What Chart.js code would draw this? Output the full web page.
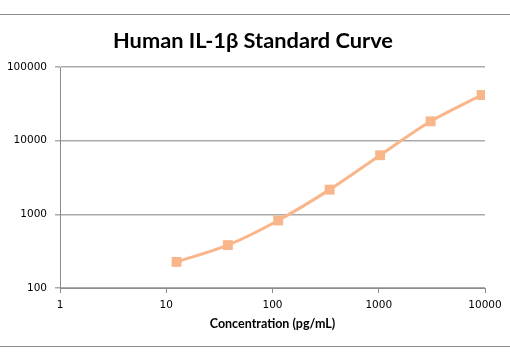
<!DOCTYPE html>
<html>
<head>
<meta charset="utf-8">
<script src="https://cdn.jsdelivr.net/npm/chart.js@4/dist/chart.umd.min.js"></script>
<style>
  html, body { margin: 0; padding: 0; background: #fff; }
  #wrap { width: 510px; height: 362px; }
</style>
</head>
<body>
<div id="wrap"><canvas id="c" width="510" height="362"></canvas></div>
<script>
const chartTitle = "Human IL-1\u03B2 Standard Curve";
const xAxisTitle = "Concentration (pg/mL)";
const concentrations = [12.5, 38, 113, 345, 1030, 3080, 9300];
const signal = [226, 382, 826, 2164, 6340, 18300, 41700];
const xTicks = [1, 10, 100, 1000, 10000];
const yTicks = [100, 1000, 10000, 100000];

const lineColor = '#F9B68B';

const framePlugin = {
  id: 'frame',
  beforeDraw(chart) {
    const ctx = chart.ctx;
    ctx.save();
    ctx.fillStyle = '#ffffff';
    ctx.fillRect(0, 0, chart.width, chart.height);
    ctx.strokeStyle = '#8c8c8c';
    ctx.lineWidth = 1;
    ctx.beginPath();
    ctx.moveTo(0, 14.5); ctx.lineTo(chart.width, 14.5);
    ctx.moveTo(0, 346.5); ctx.lineTo(chart.width, 346.5);
    ctx.stroke();
    ctx.restore();
  },
  afterDraw(chart) {
    const ctx = chart.ctx;
    ctx.save();
    ctx.fillStyle = '#000';
    ctx.font = 'bold 21.8px Lato, "Open Sans", sans-serif';
    ctx.textAlign = 'center';
    ctx.textBaseline = 'alphabetic';
    ctx.fillText(chartTitle, 253, 47.5);
    ctx.restore();
  }
};

new Chart(document.getElementById('c'), {
  type: 'line',
  data: {
    datasets: [{
      data: concentrations.map((x, i) => ({ x: x, y: signal[i] })),
      borderColor: lineColor,
      backgroundColor: lineColor,
      borderWidth: 3,
      pointStyle: 'rect',
      pointRadius: 7,
      pointBorderWidth: 0,
      pointBackgroundColor: lineColor,
      tension: 0.3,
      fill: false
    }]
  },
  plugins: [framePlugin],
  options: {
    responsive: false,
    animation: false,
    devicePixelRatio: 1,
    layout: { padding: { top: 67, right: 25, bottom: 29, left: 0 } },
    plugins: {
      legend: { display: false },
      title: { display: false },
      tooltip: { enabled: false }
    },
    scales: {
      x: {
        type: 'logarithmic',
        min: 1, max: 10000,
        afterBuildTicks: s => { s.ticks = xTicks.map(v => ({ value: v })); },
        afterFit: s => { s.height = 45; },
        grid: { drawOnChartArea: false, drawTicks: true, tickLength: 5, color: '#8c8c8c' },
        border: { color: '#8c8c8c', width: 1 },
        ticks: {
          autoSkip: false, maxRotation: 0, padding: 6,
          color: '#000',
          font: { family: 'DejaVu Sans', size: 10.5 },
          callback: v => String(v)
        },
        title: {
          display: true, text: xAxisTitle, color: '#000',
          font: { family: 'Lato, "Open Sans", sans-serif', size: 12.5, weight: 'bold' },
          padding: { top: 0, bottom: 1.5 }
        }
      },
      y: {
        type: 'logarithmic',
        min: 100, max: 100000,
        afterBuildTicks: s => { s.ticks = yTicks.map(v => ({ value: v })); },
        afterFit: s => { s.width = 60; },
        grid: { drawOnChartArea: true, drawTicks: true, tickLength: 5, color: '#aaaaaa', lineWidth: 1.5 },
        border: { color: '#8c8c8c', width: 1 },
        ticks: {
          autoSkip: false, padding: 8,
          color: '#000',
          font: { family: 'DejaVu Sans', size: 10.5 },
          callback: v => String(v)
        }
      }
    }
  }
});
</script>
</body>
</html>
